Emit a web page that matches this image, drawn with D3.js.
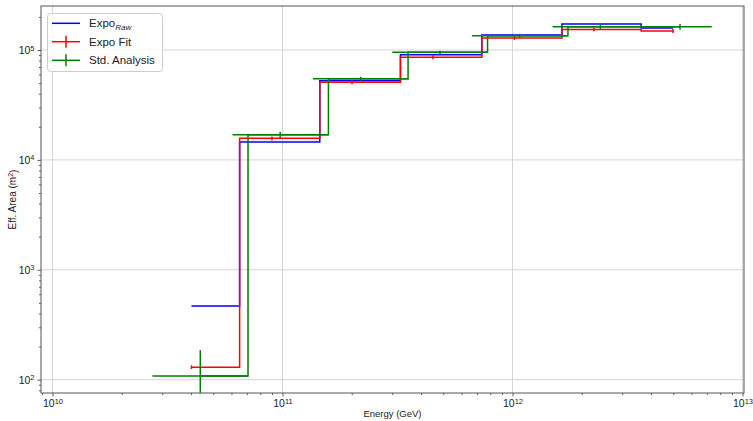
<!DOCTYPE html>
<html><head><meta charset="utf-8">
<script src="https://cdn.jsdelivr.net/npm/d3@7"></script>
<style>
html,body{margin:0;padding:0;background:#fff;}
text{font-family:"Liberation Sans",Arial,sans-serif;fill:#222;}
</style></head>
<body><svg id="c" width="753" height="421"></svg>
<script>
// ---- data ----
const seriesNames = ["Expo", "Expo Fit", "Std. Analysis"];
// Expo raw / Expo fit energies (GeV)
const expoEnergy = [4.02e10, 9.0e10, 2.005e11, 4.51e11, 1.02e12, 2.26e12, 4.99e12];
const rawArea    = [468, 1.455e4, 5.26e4, 9.06e4, 1.37e5, 1.72e5, 1.585e5];
const fitArea    = [130, 1.57e4, 5.08e4, 8.6e4, 1.285e5, 1.54e5, 1.49e5];
const fitErr     = [5, 650, 2000, 3400, 5000, 6000, 6000];
// Standard analysis
const stdEnergy  = [4.39e10, 9.77e10, 2.19e11, 4.84e11, 1.074e12, 2.41e12, 5.35e12];
const stdELow    = [2.72e10, 6.06e10, 1.356e11, 3.0e11, 6.66e11, 1.494e12, 3.89e12];
const stdEHigh   = [7.09e10, 1.577e11, 3.53e11, 7.81e11, 1.733e12, 3.89e12, 7.35e12];
const stdArea    = [108, 1.694e4, 5.48e4, 9.53e4, 1.35e5, 1.63e5, 1.63e5];
const stdErr     = [78, 1100, 2200, 3400, 5500, 8800, 9800];
const xTickExp = [10, 11, 12, 13];
const yTickExp = [2, 3, 4, 5];
const colors = ["#0000ff", "#ff0000", "#008000"];

// ---- layout ----
const L = 41, R = 744, T = 6, B = 393;
const svg = d3.select("#c");
const x = d3.scaleLog().domain([Math.pow(10, 9.95), Math.pow(10, 13.0065)]).range([L, R]);
const y = d3.scaleLog().domain([Math.pow(10, 1.879), Math.pow(10, 5.4004)]).range([B, T]);

svg.append("defs").append("clipPath").attr("id", "clip")
  .append("rect").attr("x", L).attr("y", T).attr("width", R - L).attr("height", B - T);

// grid
const grid = svg.append("g");
xTickExp.forEach(e => {
  const px = x(Math.pow(10, e));
  grid.append("line").attr("x1", px).attr("x2", px).attr("y1", T).attr("y2", B)
    .attr("stroke", "#d4d4d4").attr("stroke-width", 1);
});
yTickExp.forEach(e => {
  const py = y(Math.pow(10, e));
  grid.append("line").attr("x1", L).attr("x2", R).attr("y1", py).attr("y2", py)
    .attr("stroke", "#d4d4d4").attr("stroke-width", 1);
});

// axes
const minorVals = (lo, hi) => {
  const v = [];
  for (let e = lo; e <= hi; e++) for (let m = 2; m <= 9; m++) v.push(m * Math.pow(10, e));
  return v;
};
const fmtPow = (g) => {
  g.each(function (d) {
    const t = d3.select(this);
    t.text("");
    const e = Math.round(Math.log10(d));
    t.append("tspan").text("10");
    t.append("tspan").attr("dy", "-0.45em").attr("font-size", "7.5px").text(e);
  });
};
const xAxis = svg.append("g").attr("transform", `translate(0,${B})`)
  .call(d3.axisBottom(x).tickValues(xTickExp.map(e => Math.pow(10, e))).tickSize(3.5).tickPadding(3).tickFormat(d => d));
const xMinor = svg.append("g").attr("transform", `translate(0,${B})`)
  .call(d3.axisBottom(x).tickValues(minorVals(9, 12).filter(v => v >= x.domain()[0] && v <= x.domain()[1])).tickSize(2).tickFormat(""));
const yAxis = svg.append("g").attr("transform", `translate(${L},0)`)
  .call(d3.axisLeft(y).tickValues(yTickExp.map(e => Math.pow(10, e))).tickSize(3.5).tickPadding(3).tickFormat(d => d));
const yMinor = svg.append("g").attr("transform", `translate(${L},0)`)
  .call(d3.axisLeft(y).tickValues(minorVals(1, 5).filter(v => v >= y.domain()[0] && v <= y.domain()[1])).tickSize(2).tickFormat(""));
[xAxis, xMinor, yAxis, yMinor].forEach(a => {
  a.select(".domain").remove();
  a.selectAll(".tick line").attr("stroke", "#333").attr("stroke-width", 0.8);
});
xAxis.selectAll(".tick text").attr("font-size", "10.5px").attr("font-family", "Liberation Sans").attr("fill", "#222").call(fmtPow);
yAxis.selectAll(".tick text").attr("font-size", "10.5px").attr("font-family", "Liberation Sans").attr("fill", "#222").call(fmtPow);

// frame
svg.append("rect").attr("x", L).attr("y", T).attr("width", R - L).attr("height", B - T)
  .attr("fill", "none").attr("stroke", "#555").attr("stroke-width", 1);

// steps-mid path (midpoints in linear data space)
function stepPts(xs, ys) {
  const pts = [[xs[0], ys[0]]];
  for (let i = 1; i < xs.length; i++) {
    const m = (xs[i - 1] + xs[i]) / 2;
    pts.push([m, ys[i - 1]]);
    pts.push([m, ys[i]]);
  }
  pts.push([xs[xs.length - 1], ys[ys.length - 1]]);
  return pts;
}
const line = d3.line().x(d => x(d[0])).y(d => y(d[1]));
const plot = svg.append("g").attr("clip-path", "url(#clip)");

// Expo raw
plot.append("path").attr("d", line(stepPts(expoEnergy, rawArea)))
  .attr("fill", "none").attr("stroke", colors[0]).attr("stroke-width", 1.5);

// Expo fit
plot.append("path").attr("d", line(stepPts(expoEnergy, fitArea)))
  .attr("fill", "none").attr("stroke", colors[1]).attr("stroke-width", 1.5);
plot.selectAll(".fiterr").data(expoEnergy).enter().append("line")
  .attr("x1", d => x(d)).attr("x2", d => x(d))
  .attr("y1", (d, i) => y(fitArea[i] + fitErr[i]))
  .attr("y2", (d, i) => y(Math.max(fitArea[i] - fitErr[i], 1)))
  .attr("stroke", colors[1]).attr("stroke-width", 1.5);

// Std analysis
plot.append("path").attr("d", line(stepPts(stdEnergy, stdArea)))
  .attr("fill", "none").attr("stroke", colors[2]).attr("stroke-width", 1.5);
plot.selectAll(".stdx").data(stdEnergy).enter().append("line")
  .attr("x1", (d, i) => x(stdELow[i])).attr("x2", (d, i) => x(stdEHigh[i]))
  .attr("y1", (d, i) => y(stdArea[i])).attr("y2", (d, i) => y(stdArea[i]))
  .attr("stroke", colors[2]).attr("stroke-width", 1.5);
plot.selectAll(".stdy").data(stdEnergy).enter().append("line")
  .attr("x1", d => x(d)).attr("x2", d => x(d))
  .attr("y1", (d, i) => y(stdArea[i] + stdErr[i]))
  .attr("y2", (d, i) => y(Math.max(stdArea[i] - stdErr[i], 1)))
  .attr("stroke", colors[2]).attr("stroke-width", 1.5);

// axis labels
svg.append("text").attr("x", (L + R) / 2).attr("y", 417).attr("text-anchor", "middle")
  .attr("font-size", "9.5px").text("Energy (GeV)");
const yl = svg.append("text").attr("transform", `translate(16,${(T + B) / 2}) rotate(-90)`)
  .attr("text-anchor", "middle").attr("font-size", "10px");
yl.append("tspan").text("Eff. Area (m");
yl.append("tspan").attr("dy", "-0.4em").attr("font-size", "7px").text("2");
yl.append("tspan").attr("dy", "0.4em").text(")");

// legend
const lg = svg.append("g");
lg.append("rect").attr("x", 47.5).attr("y", 13.5).attr("width", 115).attr("height", 58).attr("rx", 3)
  .attr("fill", "#fff").attr("fill-opacity", 0.8).attr("stroke", "#cccccc").attr("stroke-width", 1);
const ly = [23.3, 41.7, 60.3];
seriesNames.forEach((n, i) => {
  lg.append("line").attr("x1", 52).attr("x2", 80).attr("y1", ly[i]).attr("y2", ly[i])
    .attr("stroke", colors[i]).attr("stroke-width", 1.5);
  if (i > 0) lg.append("line").attr("x1", 66).attr("x2", 66).attr("y1", ly[i] - 6).attr("y2", ly[i] + 6)
    .attr("stroke", colors[i]).attr("stroke-width", 1.5);
  const t = lg.append("text").attr("x", 89).attr("y", ly[i] + 4).attr("font-size", "11.5px");
  t.append("tspan").text(n);
  if (i === 0) t.append("tspan").attr("dy", "0.3em").attr("font-size", "8px").attr("font-style", "italic").text("Raw");
});
</script></body></html>
